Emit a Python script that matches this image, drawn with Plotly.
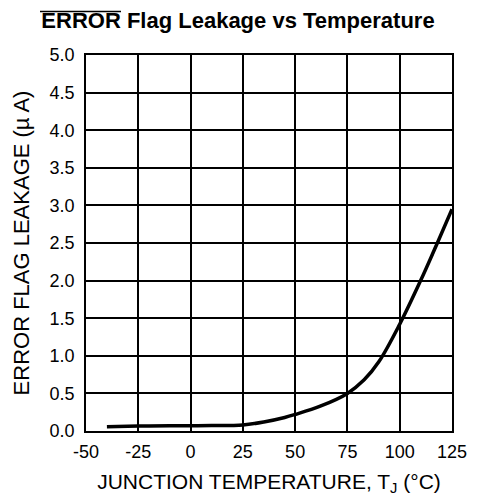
import plotly.graph_objects as go

temp_c = [-40, -25, -10, 0, 10, 25, 35, 45, 50, 62, 75, 83, 90, 100, 110, 118, 125]
leak_ua = [0.055, 0.065, 0.07, 0.07, 0.072, 0.08, 0.12, 0.18, 0.22, 0.33, 0.5, 0.68, 0.92, 1.42, 2.0, 2.5, 2.95]

x_ticks = [-50, -25, 0, 25, 50, 75, 100, 125]
y_ticks = [0.0, 0.5, 1.0, 1.5, 2.0, 2.5, 3.0, 3.5, 4.0, 4.5, 5.0]

fig = go.Figure()
fig.add_trace(go.Scatter(x=temp_c, y=leak_ua, mode="lines",
                         line=dict(color="black", width=3.5, shape="spline", smoothing=1.0),
                         showlegend=False))

font = "Liberation Sans, Arial, sans-serif"
W, H = 474, 496  # page body has an 8px margin in the 482x504 window
ML, MR, MT, MB = 78, 30, 47, 73
PW, PH = W - ML - MR, H - MT - MB
fig.update_layout(
    width=W, height=H,
    margin=dict(l=ML, r=MR, t=MT, b=MB),
    paper_bgcolor="white", plot_bgcolor="white",
    title=dict(text="<b>ERROR Flag Leakage vs Temperature</b>",
               x=230 / W, xanchor="center", y=1 - 12.5 / H, yanchor="middle",
               font=dict(family=font, size=22, color="black")),
    font=dict(family=font, size=18, color="black"),
)
# overbar over "ERROR" in the title (active-low signal notation)
fig.add_shape(type="line", xref="paper", yref="paper",
              x0=(32 - ML) / PW, x1=(113 - ML) / PW,
              y0=(H - MB - 3.5) / PH, y1=(H - MB - 3.5) / PH,
              line=dict(color="black", width=1.5))
fig.update_xaxes(range=[-50, 125], tickvals=x_ticks, ticktext=[str(v) for v in x_ticks],
                 showgrid=True, gridcolor="black", gridwidth=1.5,
                 showline=True, linecolor="black", linewidth=1.5, mirror=True,
                 zeroline=False, ticks="outside", ticklen=4, tickcolor="rgba(0,0,0,0)",
                 automargin=False,
                 title=dict(text="JUNCTION TEMPERATURE, T<sub>J</sub> (°C)", standoff=13,
                            font=dict(family=font, size=21)),
                 tickfont=dict(family=font, size=18))
fig.update_yaxes(range=[0, 5], tickvals=y_ticks, ticktext=[f"{v:.1f}" for v in y_ticks],
                 showgrid=True, gridcolor="black", gridwidth=1.5,
                 showline=True, linecolor="black", linewidth=1.5, mirror=True,
                 zeroline=False, ticks="outside", ticklen=6, tickcolor="rgba(0,0,0,0)",
                 automargin=False,
                 title=dict(text="ERROR FLAG LEAKAGE (µ A)", standoff=14,
                            font=dict(family=font, size=22)),
                 tickfont=dict(family=font, size=18))

fig.write_html("out.html")
